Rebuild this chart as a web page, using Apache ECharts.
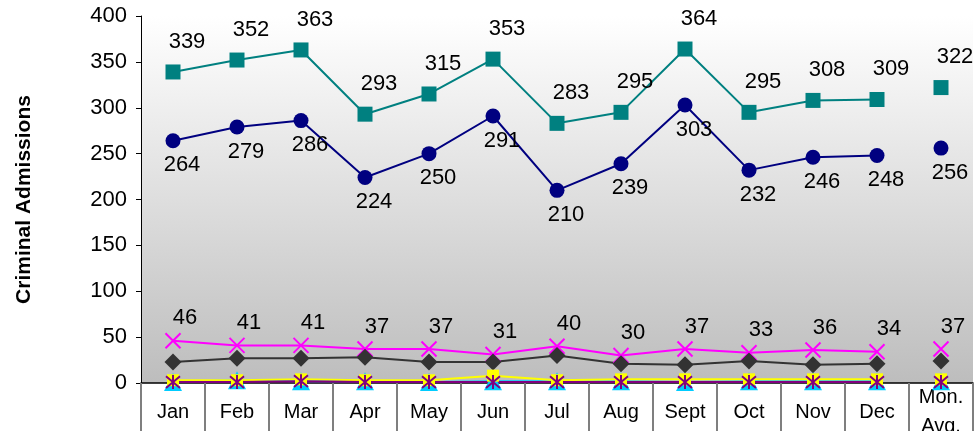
<!DOCTYPE html>
<html>
<head>
<meta charset="utf-8">
<script src="https://cdn.jsdelivr.net/npm/echarts@6/dist/echarts.min.js"></script>
<style>
  html, body { margin: 0; padding: 0; background: #fff; }
  #main { width: 977px; height: 431px; }
</style>
</head>
<body>
<div id="main"></div>
<script>
// categories (last one is the monthly average)
const categories = ['Jan', 'Feb', 'Mar', 'Apr', 'May', 'Jun', 'Jul', 'Aug', 'Sept', 'Oct', 'Nov', 'Dec', 'Mon.\nAvg.'];

// series values, 12 months + monthly average
const tealValues = [339, 352, 363, 293, 315, 353, 283, 295, 364, 295, 308, 309, 322];
const navyValues = [264, 279, 286, 224, 250, 291, 210, 239, 303, 232, 246, 248, 256];
const magentaValues = [46, 41, 41, 37, 37, 31, 40, 30, 37, 33, 36, 34, 37];
const grayValues = [23, 27, 27, 28, 23, 23, 30, 21, 20, 24, 20, 21, 24];
const cyanValues = [1, 3, 2, 2, 1, 2, 2, 2, 1, 2, 2, 2, 2];
const yellowValues = [3, 3, 4, 3, 3, 8, 3, 4, 4, 4, 4, 4, 4];
const purpleValues = [1, 1, 2, 1, 1, 1, 1, 1, 1, 1, 1, 1, 1];

const yTicks = { min: 0, max: 400, interval: 50 };

const fontFamily = 'Arial, "Liberation Sans", sans-serif';
const crossPath = 'path://M0,0L10,10M10,0L0,10';
const starPath = 'path://M0,0L10,10M10,0L0,10M5,-1L5,11';

// months as a connected line, average as a lone point
function makeSeries(values, color, symbol, size, label, stroke) {
  const months = values.slice(0, 12).concat('-');
  const avg = values.map((v, i) => (i === 12 ? v : '-'));
  const itemStyle = stroke
    ? { color: color, borderColor: color, borderWidth: 2, opacity: 1 }
    : { color: color, opacity: 1 };
  const common = {
    symbol: symbol,
    symbolSize: size,
    itemStyle: itemStyle,
    label: label || { show: false },
    emphasis: { disabled: true },
    clip: false,
    animation: false,
  };
  return [
    Object.assign({ type: 'line', data: months, lineStyle: { color: color, width: 2 } }, common),
    Object.assign({ type: 'scatter', data: avg }, common),
  ];
}

function valueLabel(position, distance, offset) {
  return {
    show: true,
    position: position,
    distance: distance,
    offset: offset,
    color: '#000',
    fontSize: 22,
    fontFamily: fontFamily,
  };
}

const chart = echarts.init(document.getElementById('main'));
chart.setOption({
  animation: false,
  grid: {
    left: 141,
    top: 16,
    width: 832,
    bottom: 48,
    outerBoundsMode: 'none',
    containLabel: false,
    show: true,
    borderWidth: 0,
    backgroundColor: new echarts.graphic.LinearGradient(0, 0, 0, 1, [
      { offset: 0, color: '#ffffff' },
      { offset: 1, color: '#bdbdbd' },
    ]),
  },
  xAxis: {
    type: 'category',
    data: categories,
    boundaryGap: true,
    axisLine: { show: true, lineStyle: { color: '#000', width: 1.5 } },
    axisTick: { show: true, alignWithLabel: false, length: 48, lineStyle: { color: '#7f7f7f', width: 2 } },
    axisLabel: {
      color: '#000',
      fontSize: 20,
      fontFamily: fontFamily,
      margin: 29,
      verticalAlign: 'middle',
      lineHeight: 29,
      interval: 0,
    },
    splitLine: { show: false },
  },
  yAxis: {
    type: 'value',
    min: yTicks.min,
    max: yTicks.max,
    interval: yTicks.interval,
    name: 'Criminal Admissions',
    nameLocation: 'middle',
    nameGap: 106,
    nameTextStyle: { color: '#000', fontSize: 21, fontWeight: 'bold', fontFamily: fontFamily },
    axisLine: { show: true, lineStyle: { color: '#000', width: 1 } },
    axisTick: { show: true, inside: false, length: 5, lineStyle: { color: '#000' } },
    axisLabel: { color: '#000', fontSize: 22, fontFamily: fontFamily, margin: 14 },
    splitLine: { show: false },
  },
  series: [].concat(
    makeSeries(tealValues, '#008080', 'rect', 15, valueLabel('top', 12, [14, 0])),
    makeSeries(navyValues, '#000080', 'circle', 15, valueLabel('bottom', 6, [9, 0])),
    makeSeries(magentaValues, '#ff00ff', crossPath, 15, valueLabel('top', 3, [12, 0]), true),
    makeSeries(grayValues, '#333333', 'diamond', 17),
    makeSeries(cyanValues, '#00ccff', 'triangle', 18),
    makeSeries(yellowValues, '#ffff00', 'rect', 12),
    makeSeries(purpleValues, '#800080', starPath, 14, null, true)
  ),
});
</script>
</body>
</html>
